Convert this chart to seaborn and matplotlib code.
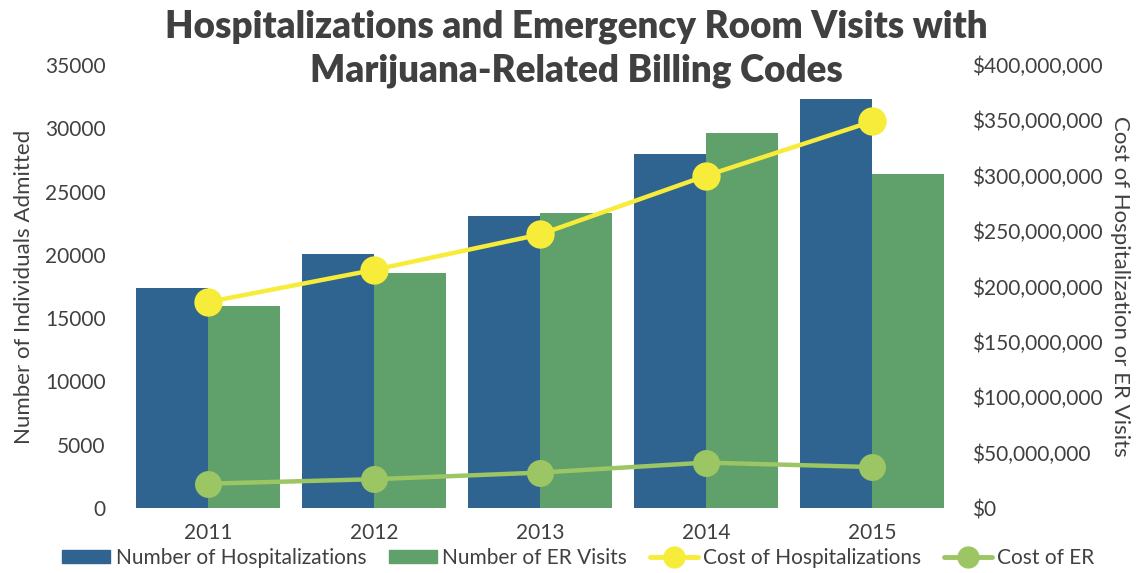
import pandas as pd
import matplotlib
matplotlib.use("Agg")
import matplotlib.pyplot as plt
from matplotlib.patches import Patch
from matplotlib.lines import Line2D
from matplotlib.ticker import FuncFormatter
import seaborn as sns

# --- data ---
years = ["2011", "2012", "2013", "2014", "2015"]
hospitalizations = [17350, 20050, 23050, 28000, 32350]
er_visits = [15950, 18600, 23300, 29650, 26400]
cost_hosp = [186e6, 215e6, 247e6, 300e6, 349e6]
cost_er = [22e6, 26e6, 32e6, 41e6, 37e6]

BLUE = "#2f6390"
GREEN = "#60a06b"
YELLOW = "#f7ec3a"
LIGHT_GREEN = "#9cc563"
TEXT = "#404040"

sns.set_theme(style="white")
plt.rcParams["font.family"] = ["Lato", "DejaVu Sans"]

counts = pd.DataFrame({
    "year": years * 2,
    "value": hospitalizations + er_visits,
    "series": ["Number of Hospitalizations"] * 5 + ["Number of ER Visits"] * 5,
})

fig = plt.figure(figsize=(11.41, 5.73), dpi=100)
ax = fig.add_axes([0.1096, 0.1134, 0.7274, 0.7732])

sns.barplot(data=counts, x="year", y="value", hue="series",
            palette=[BLUE, GREEN], width=0.87, saturation=1,
            linewidth=0, legend=False, ax=ax)
ax.set_ylim(0, 35000)
ax.set_yticks(range(0, 35001, 5000))
ax.set_xlabel("")
ax.set_ylabel("Number of Individuals Admitted", fontsize=16, color=TEXT, labelpad=8)

ax2 = ax.twinx()
sns.pointplot(x=years, y=cost_hosp, color=YELLOW, markersize=18, linewidth=3.2, ax=ax2)
sns.pointplot(x=years, y=cost_er, color=LIGHT_GREEN, markersize=17, linewidth=3.2, ax=ax2)
ax2.set_ylim(0, 400e6)
ax2.set_yticks([i * 50e6 for i in range(9)])
ax2.yaxis.set_major_formatter(FuncFormatter(lambda v, p: f"${v:,.0f}"))
ax2.set_ylabel("Cost of Hospitalization or ER Visits", fontsize=16, color=TEXT,
               rotation=270, labelpad=20)
ax.set_xlim(-0.5, 4.5)

for a in (ax, ax2):
    for s in a.spines.values():
        s.set_visible(False)
    a.tick_params(length=0, labelsize=15, colors=TEXT)
ax.tick_params(axis="x", pad=11)
ax.tick_params(axis="y", pad=14)
ax2.tick_params(axis="y", pad=12)

# title as two centred lines
fig.text(0.505, 1 - 37 / 573, "Hospitalizations and Emergency Room Visits with",
         ha="center", va="baseline", fontsize=26.5, fontweight="heavy", color=TEXT)
fig.text(0.505, 1 - 82 / 573, "Marijuana-Related Billing Codes",
         ha="center", va="baseline", fontsize=26.5, fontweight="heavy", color=TEXT)

handles = [
    Patch(color=BLUE), Patch(color=GREEN),
    Line2D([], [], color=YELLOW, lw=3.5, marker="o", markersize=15),
    Line2D([], [], color=LIGHT_GREEN, lw=3.5, marker="o", markersize=15),
]
labels = ["Number of Hospitalizations", "Number of ER Visits",
          "Cost of Hospitalizations", "Cost of ER"]
fig.legend(handles, labels, loc="center", bbox_to_anchor=(0.507, 0.026), ncol=4,
           frameon=False, fontsize=15, handlelength=2.3, handleheight=0.6,
           columnspacing=1.1, handletextpad=0.25, labelcolor=TEXT)

fig.savefig("out.png", dpi=100)
